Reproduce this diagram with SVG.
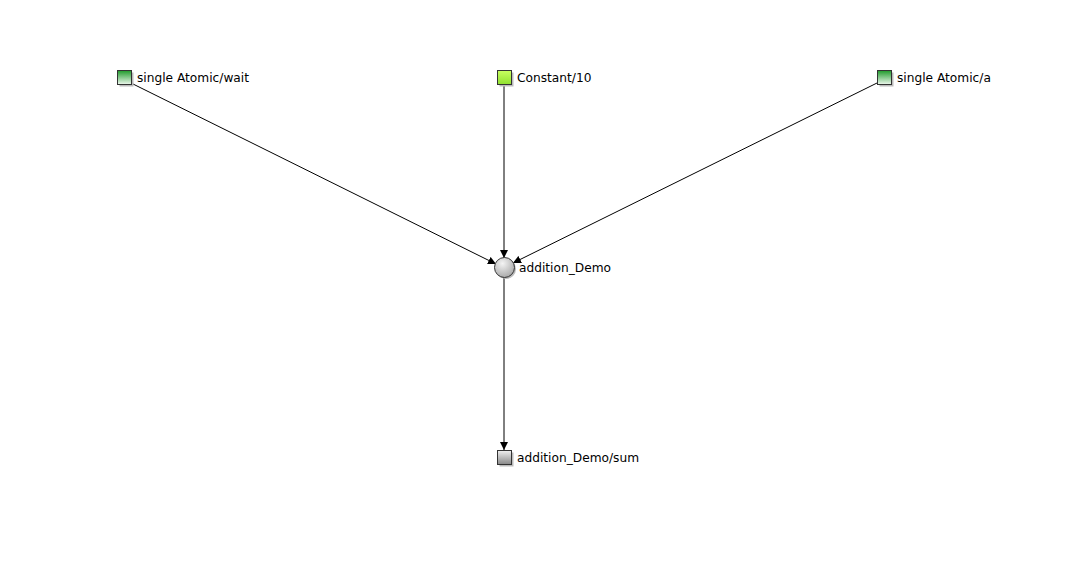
<svg xmlns="http://www.w3.org/2000/svg" width="1089" height="585" viewBox="0 0 1089 585">
<defs>
<linearGradient id="gGreen" x1="0" y1="0" x2="0" y2="1"><stop offset="0" stop-color="#1f9a2a"/><stop offset="1" stop-color="#eef8ee"/></linearGradient>
<linearGradient id="gLime" x1="0" y1="0" x2="0" y2="1"><stop offset="0" stop-color="#c8ff60"/><stop offset="1" stop-color="#90e030"/></linearGradient>
<linearGradient id="gGray" x1="0" y1="0" x2="0" y2="1"><stop offset="0" stop-color="#f0f0f0"/><stop offset="1" stop-color="#888"/></linearGradient>
<radialGradient id="gCirc" cx="0.4" cy="0.3" r="0.8"><stop offset="0" stop-color="#f4f4f4"/><stop offset="1" stop-color="#a0a0a0"/></radialGradient>
<marker id="arr" viewBox="0 0 10 10" refX="10" refY="5" markerWidth="8" markerHeight="8" markerUnits="userSpaceOnUse" orient="auto"><path d="M0,0 L10,5 L0,10 z" fill="#000"/></marker>
</defs>
<style>
.lbl{font-family:"DejaVu Sans",sans-serif;font-size:12.2px;fill:#000}
.box{stroke:#333;stroke-width:1}
.sh{fill:#bbb}
.edge{stroke:#000;stroke-width:1;fill:none;marker-end:url(#arr)}
</style>
<rect width="1089" height="585" fill="#fff"/>
<g id="connectors">
<line class="edge" x1="131" y1="83" x2="496" y2="264"/>
<line class="edge" x1="504" y1="84" x2="504" y2="258"/>
<line class="edge" x1="877" y1="83" x2="513" y2="263"/>
<line class="edge" x1="504" y1="277" x2="504" y2="450"/>
</g>
<g id="n_wait">
<rect class="sh" x="119.5" y="72.5" width="14" height="14"/>
<rect class="box" x="117.5" y="70.5" width="14" height="14" fill="url(#gGreen)"/>
<text class="lbl" x="137" y="82">single Atomic/wait</text>
</g>
<g id="n_const">
<rect class="sh" x="499.5" y="72.5" width="14" height="14"/>
<rect class="box" x="497.5" y="70.5" width="14" height="14" fill="url(#gLime)"/>
<text class="lbl" x="517" y="82">Constant/10</text>
</g>
<g id="n_a">
<rect class="sh" x="879.5" y="72.5" width="14" height="14"/>
<rect class="box" x="877.5" y="70.5" width="14" height="14" fill="url(#gGreen)"/>
<text class="lbl" x="897" y="82">single Atomic/a</text>
</g>
<g id="n_add">
<circle cx="506" cy="269" r="10" fill="#bbb"/>
<circle class="box" cx="504.5" cy="267.5" r="10" fill="url(#gCirc)"/>
<text class="lbl" x="519" y="272">addition_Demo</text>
</g>
<g id="n_sum">
<rect class="sh" x="499.5" y="452.5" width="14" height="14"/>
<rect class="box" x="497.5" y="450.5" width="14" height="14" fill="url(#gGray)"/>
<text class="lbl" x="517" y="462">addition_Demo/sum</text>
</g>
</svg>
